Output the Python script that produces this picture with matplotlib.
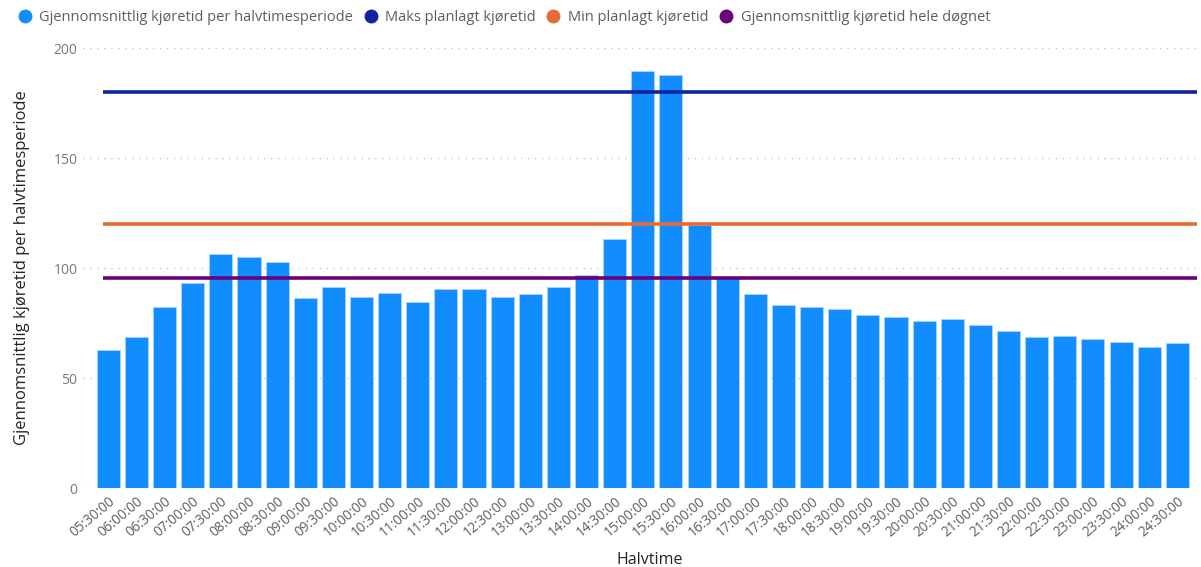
import matplotlib.pyplot as plt
from matplotlib.lines import Line2D

plt.rcParams['font.family'] = ['Open Sans', 'DejaVu Sans']

halvtime = ['05:30:00', '06:00:00', '06:30:00', '07:00:00', '07:30:00', '08:00:00',
            '08:30:00', '09:00:00', '09:30:00', '10:00:00', '10:30:00', '11:00:00',
            '11:30:00', '12:00:00', '12:30:00', '13:00:00', '13:30:00', '14:00:00',
            '14:30:00', '15:00:00', '15:30:00', '16:00:00', '16:30:00', '17:00:00',
            '17:30:00', '18:00:00', '18:30:00', '19:00:00', '19:30:00', '20:00:00',
            '20:30:00', '21:00:00', '21:30:00', '22:00:00', '22:30:00', '23:00:00',
            '23:30:00', '24:00:00', '24:30:00']
snitt_kjoretid = [62.7, 68.5, 82.4, 93.3, 106.2, 105.0, 102.6, 86.2, 91.2, 86.8,
                  88.8, 84.5, 90.5, 90.3, 86.7, 88.3, 91.5, 96.8, 113.0, 189.7,
                  187.9, 119.5, 95.8, 88.2, 83.0, 82.4, 81.2, 78.5, 77.6, 75.9,
                  76.8, 73.9, 71.2, 68.8, 69.1, 67.6, 66.5, 64.0, 65.8]
maks_planlagt = 180
min_planlagt = 120
snitt_dogn = 95.5

c_bar = '#118DFF'
c_maks = '#12239E'
c_min = '#E66C37'
c_dogn = '#6B007B'
c_tick = '#605E5C'
c_text = '#252423'

fig = plt.figure(figsize=(12.01, 5.67), dpi=100)
ax = fig.add_axes([83 / 1201, 79 / 567, (1197 - 83) / 1201, 440 / 567])

x = list(range(len(halvtime)))
ax.bar(x, snitt_kjoretid, width=0.82, color=c_bar, edgecolor='#A9D4FF',
       linewidth=0.6, zorder=2)

x_end = len(halvtime) - 0.3
for verdi, farge in [(maks_planlagt, c_maks), (min_planlagt, c_min), (snitt_dogn, c_dogn)]:
    ax.plot([-0.2, x_end], [verdi, verdi], color=farge, linewidth=2.6,
            solid_capstyle='butt', zorder=3)

ax.set_xlim(-0.9, x_end)
ax.set_ylim(0, 200)
ax.set_yticks([0, 50, 100, 150, 200])
ax.yaxis.grid(True, linestyle=(0, (1, 4)), color='#C8C6C4', linewidth=1.0, zorder=0)
ax.set_axisbelow(True)

ax.set_xticks(x)
ax.set_xticklabels(halvtime, rotation=40, ha='right', rotation_mode='anchor',
                   fontsize=9.8, color=c_tick)
ax.tick_params(axis='y', labelsize=10, colors='#777777', length=0, pad=4)
ax.tick_params(axis='x', length=0, pad=4)
for s in ax.spines.values():
    s.set_visible(False)

ax.set_xlabel('Halvtime', fontsize=11.5, color=c_text)
ax.xaxis.set_label_coords(0.509, -0.145)
ax.set_ylabel('Gjennomsnittlig kjøretid per halvtimesperiode', fontsize=12,
              color=c_text, labelpad=17)

handles = [Line2D([], [], marker='o', linestyle='none', markersize=9, color=c)
           for c in (c_bar, c_maks, c_min, c_dogn)]
labels = ['Gjennomsnittlig kjøretid per halvtimesperiode', 'Maks planlagt kjøretid',
          'Min planlagt kjøretid', 'Gjennomsnittlig kjøretid hele døgnet']
fig.legend(handles, labels, loc='upper left', bbox_to_anchor=(0.0, 1.0), ncol=4,
           frameon=False, fontsize=10.5, handletextpad=0.0, columnspacing=0.2,
           borderaxespad=0.3, labelcolor=c_tick)

fig.savefig('out.png', dpi=100)
